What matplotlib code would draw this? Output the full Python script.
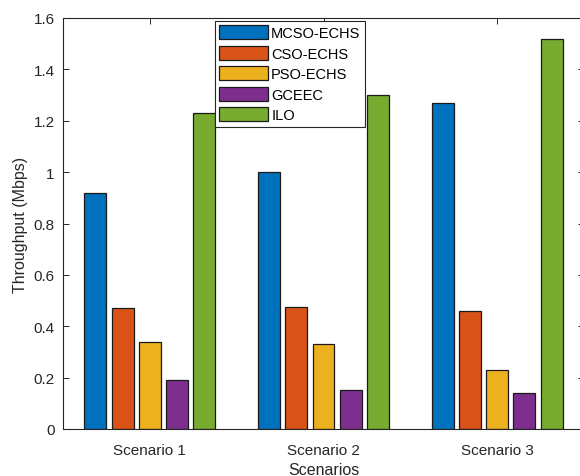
import matplotlib
matplotlib.use("Agg")
import matplotlib.pyplot as plt
import numpy as np

plt.rcParams['font.family'] = ['Liberation Sans', 'DejaVu Sans']

scenarios = ["Scenario 1", "Scenario 2", "Scenario 3"]
methods = ["MCSO-ECHS", "CSO-ECHS", "PSO-ECHS", "GCEEC", "ILO"]
mcso_echs = [0.92, 1.00, 1.27]
cso_echs = [0.47, 0.475, 0.46]
pso_echs = [0.34, 0.33, 0.23]
gceec = [0.19, 0.15, 0.14]
ilo = [1.23, 1.30, 1.52]
y_ticks = [0, 0.2, 0.4, 0.6, 0.8, 1, 1.2, 1.4, 1.6]
y_tick_labels = ["0", "0.2", "0.4", "0.6", "0.8", "1", "1.2", "1.4", "1.6"]

series = [mcso_echs, cso_echs, pso_echs, gceec, ilo]
colors = ["#0072BD", "#D95319", "#EDB120", "#7E2F8E", "#77AC30"]
axis_color = "#262626"

W, H = 580, 477
fig = plt.figure(figsize=(W / 100, H / 100), dpi=100)
ax = fig.add_axes([63 / W, 1 - 430 / H, (584 - 63) / W, (430 - 19) / H])

x = np.arange(1, len(scenarios) + 1)
step = 0.157
width = 0.126
for i, (vals, name, c) in enumerate(zip(series, methods, colors)):
    ax.bar(x + (i - 2) * step, vals, width, color=c, edgecolor="#1a1a1a",
           linewidth=0.9, label=name, zorder=2)

ax.set_xlim(0.5, 3.5)
ax.set_ylim(0, 1.6)
ax.set_xticks(x)
ax.set_xticklabels(scenarios)
ax.set_yticks(y_ticks)
ax.set_yticklabels(y_tick_labels)

ax.tick_params(axis="both", direction="in", length=4, width=0.7,
               colors=axis_color, labelsize=11, top=True, right=True,
               labelcolor=axis_color)
ax.tick_params(axis="x", pad=10)
ax.tick_params(axis="y", pad=6)
for s in ax.spines.values():
    s.set_color(axis_color)
    s.set_linewidth(0.8)

ax.set_ylabel("Throughput (Mbps)", fontsize=11.5, color=axis_color, labelpad=4)
ax.set_xlabel("Scenarios", fontsize=11.5, color=axis_color, labelpad=4)

leg = fig.legend(loc="upper left", bbox_to_anchor=(215 / W, 1 - 22 / H),
                 bbox_transform=fig.transFigure, fontsize=10.5,
                 frameon=True, fancybox=False, edgecolor=axis_color,
                 framealpha=1, handlelength=3.3, handleheight=1.1,
                 handletextpad=0.25, labelspacing=0.38, borderpad=0.3,
                 borderaxespad=0)
leg.get_frame().set_linewidth(0.8)

fig.savefig("out.png", dpi=100)
